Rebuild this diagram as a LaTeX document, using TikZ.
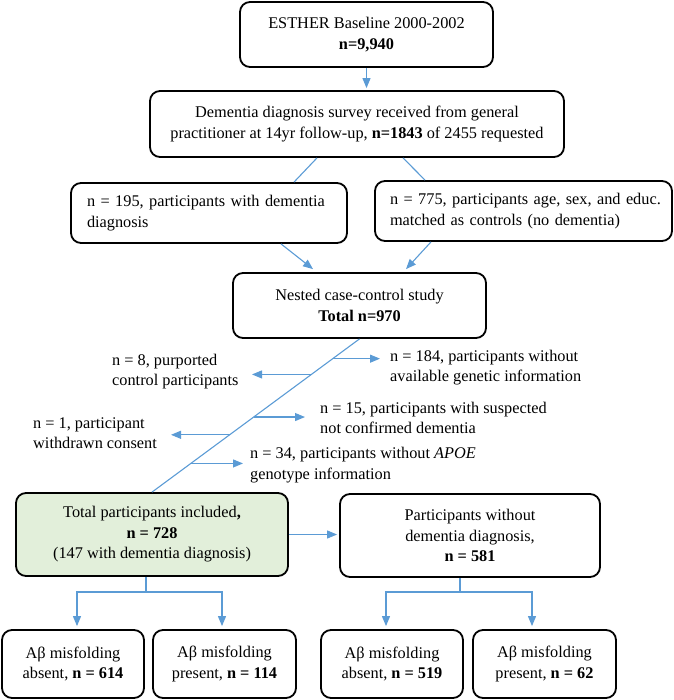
\documentclass[tikz,border=0pt]{standalone}
\usepackage{fontspec}
\setmainfont{Liberation Serif}
\usetikzlibrary{arrows.meta,calc}
\definecolor{arrowblue}{RGB}{91,155,213}
\definecolor{boxgreen}{RGB}{226,239,218}
\begin{document}
\begin{tikzpicture}[x=1pt,y=-1pt,
  every node/.style={font=\fontsize{16.3}{20.5}\selectfont},
  box/.style={draw=black, line width=1.8pt, rounded corners=10pt, inner sep=0pt, align=center},
  conn/.style={draw=arrowblue, line width=1.1pt},
  arr/.style={conn, -{Triangle[length=10pt,width=8pt]}},
  excl/.style={anchor=west, inner sep=0pt, align=left}]
\useasboundingbox (0,0) rectangle (673,700);

\node[box, minimum width=253, minimum height=65] (b1) at (366.5,34.5)
  {ESTHER Baseline 2000-2002\\\textbf{n=9,940}};
\node[box, minimum width=414, minimum height=66] (b2) at (357,124)
  {Dementia diagnosis survey received from general\\practitioner at 14yr follow-up, \textbf{n=1843} of 2455 requested};
\node[box, minimum width=276, minimum height=60, text width=244, align=left] (b3) at (209,213)
  {\mbox{n = 195, participants with dementia}\\\mbox{diagnosis}};
\node[box, minimum width=297, minimum height=60, text width=267, align=left] (b4) at (523.5,211)
  {\mbox{n = 775, participants age, sex, and educ.}\\\mbox{matched as controls (no dementia)}};
\node[box, minimum width=253, minimum height=65] (b5) at (359.5,305.5)
  {Nested case-control study\\\textbf{Total n=970}};
\node[box, fill=boxgreen, minimum width=272, minimum height=83] (g) at (152,534.5)
  {Total participants included\textbf{,}\\\textbf{n = 728}\\(147 with dementia diagnosis)};
\node[box, minimum width=260, minimum height=83] (r) at (470,535.5)
  {Participants without\\dementia diagnosis,\\\textbf{n = 581}};
\node[box, minimum width=142, minimum height=68] (A) at (73,664)
  {Aβ misfolding\\absent, \textbf{n = 614}};
\node[box, minimum width=143, minimum height=68] (B) at (224.5,664)
  {Aβ misfolding\\present, \textbf{n = 114}};
\node[box, minimum width=142, minimum height=68] (C) at (392,664)
  {Aβ misfolding\\absent, \textbf{n = 519}};
\node[box, minimum width=143, minimum height=68] (D) at (544.5,664)
  {Aβ misfolding\\present, \textbf{n = 62}};

\node[excl] (t184) at (390,367.5) {n = 184, participants without\\available genetic information};
\node[excl] (t8) at (112,371.5) {n = 8, purported\\control participants};
\node[excl] (t15) at (320,418) {n = 15, participants with suspected\\not confirmed dementia};
\node[excl] (t1) at (33,433) {n = 1, participant\\withdrawn consent};
\node[excl] (t34) at (250,465) {n = 34, participants without \textit{APOE}\\genotype information};

% top connectors
\draw[arr] (b1.south) -- ($(b1.south |- b2.north)+(0,-2)$);
\draw[conn] ($(b2.south)+(-40,0)$) -- ($(b3.north)+(85,0)$);
\draw[conn] ($(b2.south)+(46,0)$) -- ($(b4.north)+(-98.5,0)$);
\draw[arr] ($(b3.south)+(72,0)$) -- ($(b5.north)+(-46.5,-3)$);
\draw[arr] ($(b4.south)+(-92.5,0)$) -- ($(b5.north)+(46.5,-3)$);

% diagonal with exclusions
\draw[conn] (b5.south) -- (g.north);
\coordinate (d1) at ($(b5.south)!0.129!(g.north)$);
\coordinate (d2) at ($(b5.south)!0.232!(g.north)$);
\coordinate (d3) at ($(b5.south)!0.510!(g.north)$);
\coordinate (d4) at ($(b5.south)!0.626!(g.north)$);
\coordinate (d5) at ($(b5.south)!0.813!(g.north)$);
\coordinate (p1) at (380,0);
\coordinate (p2) at (252,0);
\coordinate (p3) at (305,0);
\coordinate (p4) at (171,0);
\coordinate (p5) at (243,0);
\draw[arr] (d1) -- (d1 -| p1);
\draw[arr] (d2) -- (d2 -| p2);
\draw[arr] (d3) -- (d3 -| p3);
\draw[arr] (d4) -- (d4 -| p4);
\draw[arr] (d5) -- (d5 -| p5);

% bottom
\draw[arr] (g.east) -- ($(g.east -| r.west)+(-2,0)$);
\coordinate (gj) at (146,592);
\coordinate (rj) at (460,592);
\draw[conn] ($(g.south)+(-6,0)$) -- (gj);
\draw[arr] (gj) -| ($(A.north)+(4,-3)$);
\draw[arr] (gj) -| ($(B.north)+(-2.5,-3)$);
\draw[conn] ($(r.south)+(-10,0)$) -- (rj);
\draw[arr] (rj) -| ($(C.north)+(-6,-3)$);
\draw[arr] (rj) -| ($(D.north)+(-12.5,-3)$);
\end{tikzpicture}
\end{document}
